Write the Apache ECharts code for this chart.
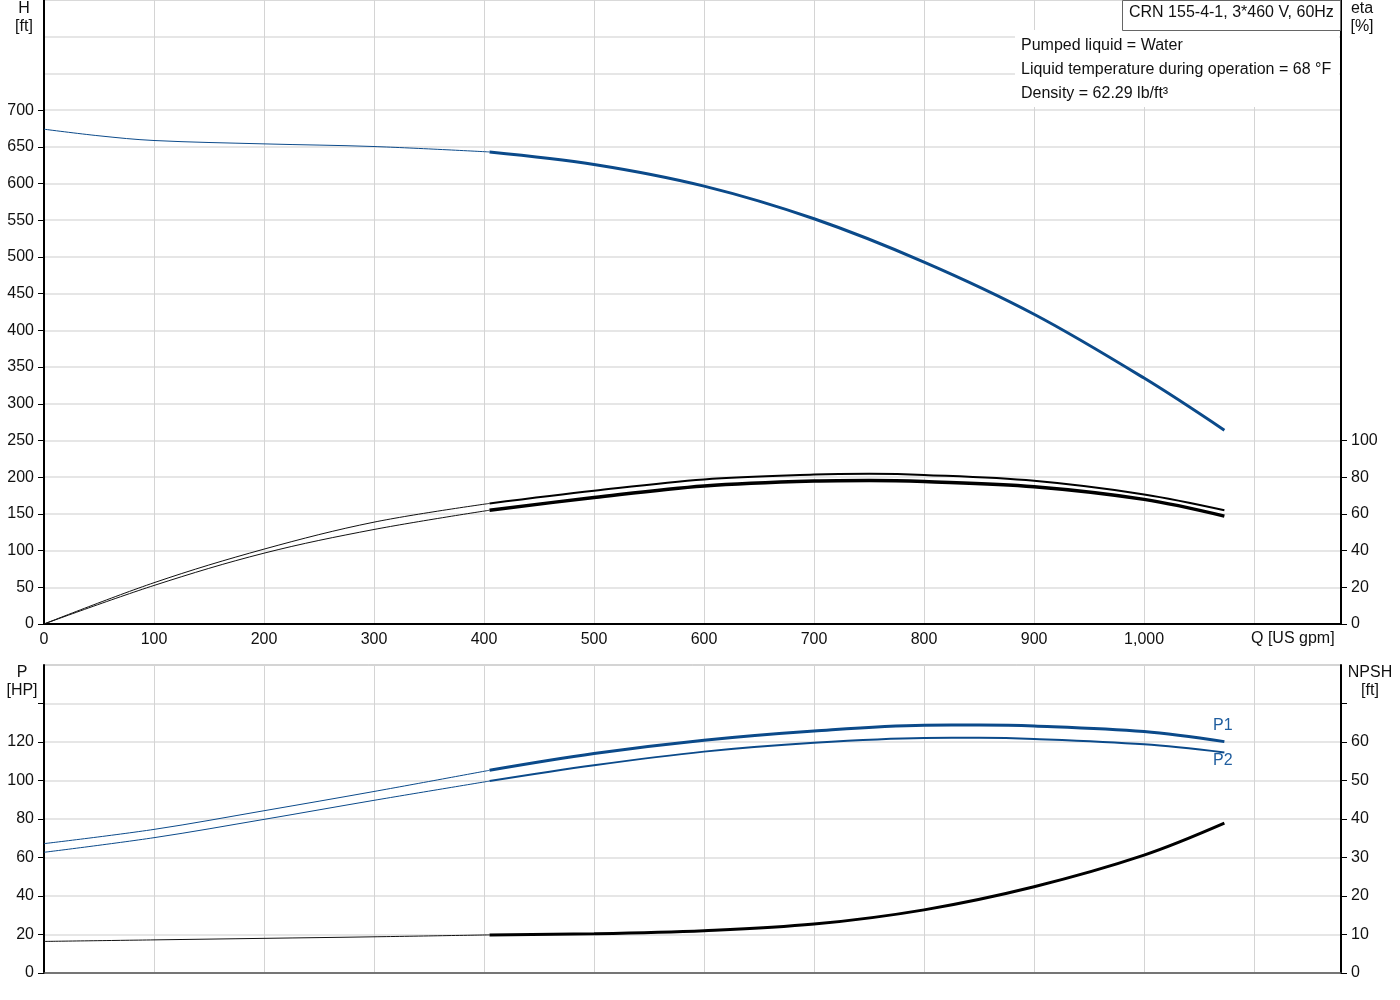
<!DOCTYPE html>
<html>
<head>
<meta charset="UTF-8">
<title>CRN 155-4-1</title>
<script src="https://cdn.jsdelivr.net/npm/echarts@6/dist/echarts.min.js"></script>
<style>
  html, body { margin: 0; padding: 0; background: #fff; }
  #chart { width: 1400px; height: 1000px; }
</style>
</head>
<body>
<div id="chart"></div>
<script>
// flow points, split where the curve turns from thin to thick
var qLow = [0, 50, 100, 200, 300, 405];
var qHigh = [405, 500, 600, 700, 800, 900, 1000, 1073];
var qHighP = [405, 500, 600, 700, 800, 850, 900, 1000, 1073];
var qLowE = [0, 100, 200, 300, 405];
var qHighE = [405, 500, 600, 700, 750, 800, 900, 1000, 1073];

// H [ft]
var headLow = [674, 665, 658.6, 654, 650.4, 643];
var headHigh = [643, 626, 596.5, 552, 493, 422, 335, 264];

// eta [%]
var eta1Low = [0, 22.5, 40.8, 55.5, 65.7];
var eta1High = [65.7, 72.6, 78.8, 81.4, 81.8, 81.2, 78, 70.6, 62];
var eta2Low = [0, 21, 38.6, 51.5, 62];
var eta2High = [62, 68.9, 75.2, 77.9, 78.2, 77.6, 74.8, 67.9, 58.8];

// P [HP]
var qLowP = [0, 100, 200, 300, 405];
var p1Low = [67.2, 74.6, 84.3, 94.3, 105.3];
var p1High = [105.3, 114, 120.9, 125.7, 128.7, 128.8, 128.3, 125.4, 120.2];
var p2Low = [62.7, 70.3, 79.8, 89.7, 99.7];
var p2High = [99.7, 107.9, 115, 119.6, 122.1, 122.2, 121.6, 118.8, 114.6];

// NPSH [ft]
var npshLow = [8.2, 8.6, 9.0, 9.4, 9.9];
var npshHigh = [9.9, 10.2, 11, 12.7, 16.4, 22.4, 30.6, 38.9];

var headTicks = [0, 50, 100, 150, 200, 250, 300, 350, 400, 450, 500, 550, 600, 650, 700];
var etaTicks = [0, 20, 40, 60, 80, 100];

var infoLines = ['Pumped liquid = Water', 'Liquid temperature during operation = 68 °F', 'Density = 62.29 lb/ft³'];

function pairs(xs, ys) {
  return xs.map(function (x, i) { return [x, ys[i]]; });
}

var blue = '#0b4a8a';
var font = '"Liberation Sans", Arial, sans-serif';
var hGrid = { show: true, lineStyle: { color: '#dedede', width: 1.5 } };
var vGrid = { show: true, lineStyle: { color: '#d4d4d4', width: 1 } };

function line(name, xi, yi, data, color, width) {
  return {
    name: name, type: 'line', xAxisIndex: xi, yAxisIndex: yi,
    data: data, showSymbol: false, smooth: 0.35,
    lineStyle: { color: color, width: width }, z: 5
  };
}

var chart = echarts.init(document.getElementById('chart'));
chart.setOption({
  animation: false,
  textStyle: { fontFamily: font },
  grid: [
    { left: 44, right: 59, top: 0, height: 624, show: true, borderColor: '#999', borderWidth: 1 },
    { left: 44, right: 59, top: 665, height: 308, show: true, borderColor: '#777', borderWidth: 1 }
  ],
  xAxis: [
    {
      gridIndex: 0, type: 'value', min: 0, max: 1179, interval: 100,
      axisLine: { lineStyle: { color: '#000', width: 2 } },
      axisTick: { show: false },
      splitLine: vGrid,
      axisLabel: {
        color: '#111', fontSize: 16, margin: 8, showMaxLabel: false,
        formatter: function (v) {
          if (v >= 1100 || v % 100 !== 0) return '';
          return v.toLocaleString('en-US');
        }
      }
    },
    {
      gridIndex: 1, type: 'value', min: 0, max: 1179, interval: 100,
      axisLine: { lineStyle: { color: '#555', width: 1.5 } },
      axisTick: { show: false },
      axisLabel: { show: false },
      splitLine: vGrid
    }
  ],
  yAxis: [
    {
      gridIndex: 0, type: 'value', position: 'left', min: 0, max: 850, interval: 50,
      axisLine: { show: true, lineStyle: { color: '#000', width: 2 } },
      axisTick: { show: true, length: 6, customValues: headTicks, lineStyle: { color: '#000' } },
      axisLabel: { color: '#111', fontSize: 16, margin: 10, customValues: headTicks },
      splitLine: { show: false }
    },
    {
      gridIndex: 0, type: 'value', position: 'right', min: 0, max: 340, interval: 20,
      axisLine: { show: true, lineStyle: { color: '#000', width: 2 } },
      axisTick: { show: true, length: 6, customValues: etaTicks, lineStyle: { color: '#000' } },
      axisLabel: { color: '#111', fontSize: 16, margin: 10, customValues: etaTicks },
      splitLine: { show: false }
    },
    {
      gridIndex: 1, type: 'value', position: 'left', min: 0, max: 160, interval: 20,
      axisLine: { show: true, lineStyle: { color: '#000', width: 2 } },
      axisTick: { show: true, length: 6, lineStyle: { color: '#000' } },
      axisLabel: {
        color: '#111', fontSize: 16, margin: 10, showMaxLabel: false,
        formatter: function (v) { return v > 120 ? '' : v; }
      },
      splitLine: hGrid
    },
    {
      gridIndex: 1, type: 'value', position: 'right', min: 0, max: 80, interval: 10,
      axisLine: { show: true, lineStyle: { color: '#000', width: 2 } },
      axisTick: { show: true, length: 6, lineStyle: { color: '#000' } },
      axisLabel: {
        color: '#111', fontSize: 16, margin: 10, showMaxLabel: false,
        formatter: function (v) { return v > 60 ? '' : v; }
      },
      splitLine: { show: false }
    },
    {
      // only carries the horizontal grid of the upper plot
      gridIndex: 0, type: 'value', position: 'left', min: 0, max: 850, interval: 50,
      axisLine: { show: false }, axisTick: { show: false }, axisLabel: { show: false },
      splitLine: hGrid
    }
  ],
  graphic: [
    { type: 'rect', shape: { x: 1015, y: 30, width: 324, height: 77 }, style: { fill: '#fff' }, z: 50 },
    { type: 'rect', shape: { x: 1122.5, y: 0.5, width: 218, height: 30 }, style: { fill: '#fff', stroke: '#666', lineWidth: 1 }, z: 51 },
    { type: 'text', x: 1129, y: 5, z: 52, style: { text: 'CRN 155-4-1, 3*460 V, 60Hz', font: '16px ' + font, fill: '#111' } },
    { type: 'text', x: 1021, y: 38, z: 52, style: { text: infoLines[0], font: '16px ' + font, fill: '#111' } },
    { type: 'text', x: 1021, y: 62, z: 52, style: { text: infoLines[1], font: '16px ' + font, fill: '#111' } },
    { type: 'text', x: 1021, y: 86, z: 52, style: { text: infoLines[2], font: '16px ' + font, fill: '#111' } },
    { type: 'text', x: 24, y: 0, z: 52, style: { text: 'H\n[ft]', align: 'center', lineHeight: 18, font: '16px ' + font, fill: '#111' } },
    { type: 'text', x: 1362, y: 0, z: 52, style: { text: 'eta\n[%]', align: 'center', lineHeight: 18, font: '16px ' + font, fill: '#111' } },
    { type: 'text', x: 1251, y: 631, z: 52, style: { text: 'Q [US gpm]', font: '16px ' + font, fill: '#111' } },
    { type: 'text', x: 22, y: 664, z: 52, style: { text: 'P\n[HP]', align: 'center', lineHeight: 18, font: '16px ' + font, fill: '#111' } },
    { type: 'text', x: 1370, y: 664, z: 52, style: { text: 'NPSH\n[ft]', align: 'center', lineHeight: 18, font: '16px ' + font, fill: '#111' } },
    { type: 'text', x: 1213, y: 718, z: 52, style: { text: 'P1', font: '16px ' + font, fill: '#1f5d9e' } },
    { type: 'text', x: 1213, y: 753, z: 52, style: { text: 'P2', font: '16px ' + font, fill: '#1f5d9e' } }
  ],
  series: [
    line('H', 0, 0, pairs(qLow, headLow), blue, 1),
    line('H', 0, 0, pairs(qHigh, headHigh), blue, 3),
    line('eta1', 0, 1, pairs(qLowE, eta1Low), '#111', 1),
    line('eta1', 0, 1, pairs(qHighE, eta1High), '#000', 2),
    line('eta2', 0, 1, pairs(qLowE, eta2Low), '#111', 1),
    line('eta2', 0, 1, pairs(qHighE, eta2High), '#000', 3.5),
    line('P1', 1, 2, pairs(qLowP, p1Low), blue, 1),
    line('P1', 1, 2, pairs(qHighP, p1High), blue, 3),
    line('P2', 1, 2, pairs(qLowP, p2Low), blue, 1),
    line('P2', 1, 2, pairs(qHighP, p2High), blue, 2),
    line('NPSH', 1, 3, pairs(qLowP, npshLow), '#111', 1),
    line('NPSH', 1, 3, pairs(qHigh, npshHigh), '#000', 3)
  ]
});
</script>
</body>
</html>
